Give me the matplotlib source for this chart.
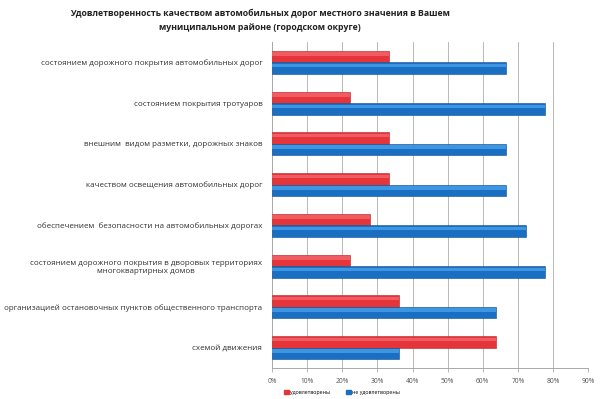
import matplotlib
matplotlib.use("Agg")
import matplotlib.pyplot as plt
import numpy as np
from matplotlib.ticker import FuncFormatter

categories = [
    "состоянием дорожного покрытия автомобильных дорог",
    "состоянием покрытия тротуаров",
    "внешним  видом разметки, дорожных знаков",
    "качеством освещения автомобильных дорог",
    "обеспечением  безопасности на автомобильных дорогах",
    "состоянием дорожного покрытия в дворовых территориях\nмногоквартирных домов",
    "организацией остановочных пунктов общественного транспорта",
    "схемой движения",
]
satisfied = [0.333, 0.222, 0.333, 0.333, 0.278, 0.222, 0.361, 0.639]
not_satisfied = [0.667, 0.778, 0.667, 0.667, 0.724, 0.778, 0.639, 0.361]
series_names = ["удовлетворены", "не удовлетворены"]
xticks = [0, 0.1, 0.2, 0.3, 0.4, 0.5, 0.6, 0.7, 0.8, 0.9]
title = "Удовлетворенность качеством автомобильных дорог местного значения в Вашем\nмуниципальном районе (городском округе)"

plt.rcParams['font.family'] = ['Open Sans', 'DejaVu Sans']

fig = plt.figure(figsize=(6, 3.99), dpi=100)
ax = fig.add_axes([0.4533, 0.0777, 0.527, 0.817])

y = np.arange(len(categories))
h = 0.283
red = "#e5343a"
blue = "#1b6fc2"
red_hi = "#f4676b"
blue_hi = "#45a0ea"

ax.barh(y - h / 2, satisfied, height=h, color=red, edgecolor="#b52226", linewidth=0.4, zorder=3, label=series_names[0])
ax.barh(y + h / 2, not_satisfied, height=h, color=blue, edgecolor="#10508f", linewidth=0.4, zorder=3, label=series_names[1])
# highlight strip (top of each bar)
ax.barh(y - h / 2 - h * 0.22, satisfied, height=h * 0.3, color=red_hi, linewidth=0, zorder=4, alpha=0.8)
ax.barh(y + h / 2 - h * 0.22, not_satisfied, height=h * 0.3, color=blue_hi, linewidth=0, zorder=4, alpha=0.8)

ax.set_xlim(0, 0.9)
ax.set_ylim(len(categories) - 0.5, -0.5)
ax.set_xticks(xticks)
ax.xaxis.set_major_formatter(FuncFormatter(lambda v, p: f"{int(round(v * 100))}%"))
ax.tick_params(axis='x', labelsize=4.8, colors="#555555", length=3, width=0.6, color="#aaaaaa", pad=4)
ax.set_yticks(y)
ax.set_yticklabels(categories, fontsize=5.75, color="#333333", multialignment='center')
ax.tick_params(axis='y', length=0, pad=7)
ax.grid(axis='x', color="#b8b8b8", linewidth=0.7, zorder=0)
for s in ['top', 'right']:
    ax.spines[s].set_visible(False)
ax.spines['left'].set_color("#aaaaaa")
ax.spines['bottom'].set_color("#aaaaaa")
ax.spines['left'].set_linewidth(0.7)
ax.spines['bottom'].set_linewidth(0.7)

fig.text(0.433, 0.978, title, ha='center', va='top', fontsize=6.3, fontweight='bold', color="#222222", linespacing=1.75)

handles = [plt.Rectangle((0, 0), 1, 1, color=red), plt.Rectangle((0, 0), 1, 1, color=blue)]
fig.legend(handles, series_names, loc='center', bbox_to_anchor=(0.57, 0.017), ncol=2, fontsize=3.8,
           frameon=False, handlelength=0.9, handleheight=0.9, handletextpad=0.2, columnspacing=3)

fig.savefig("out.png", dpi=100, facecolor="white")
